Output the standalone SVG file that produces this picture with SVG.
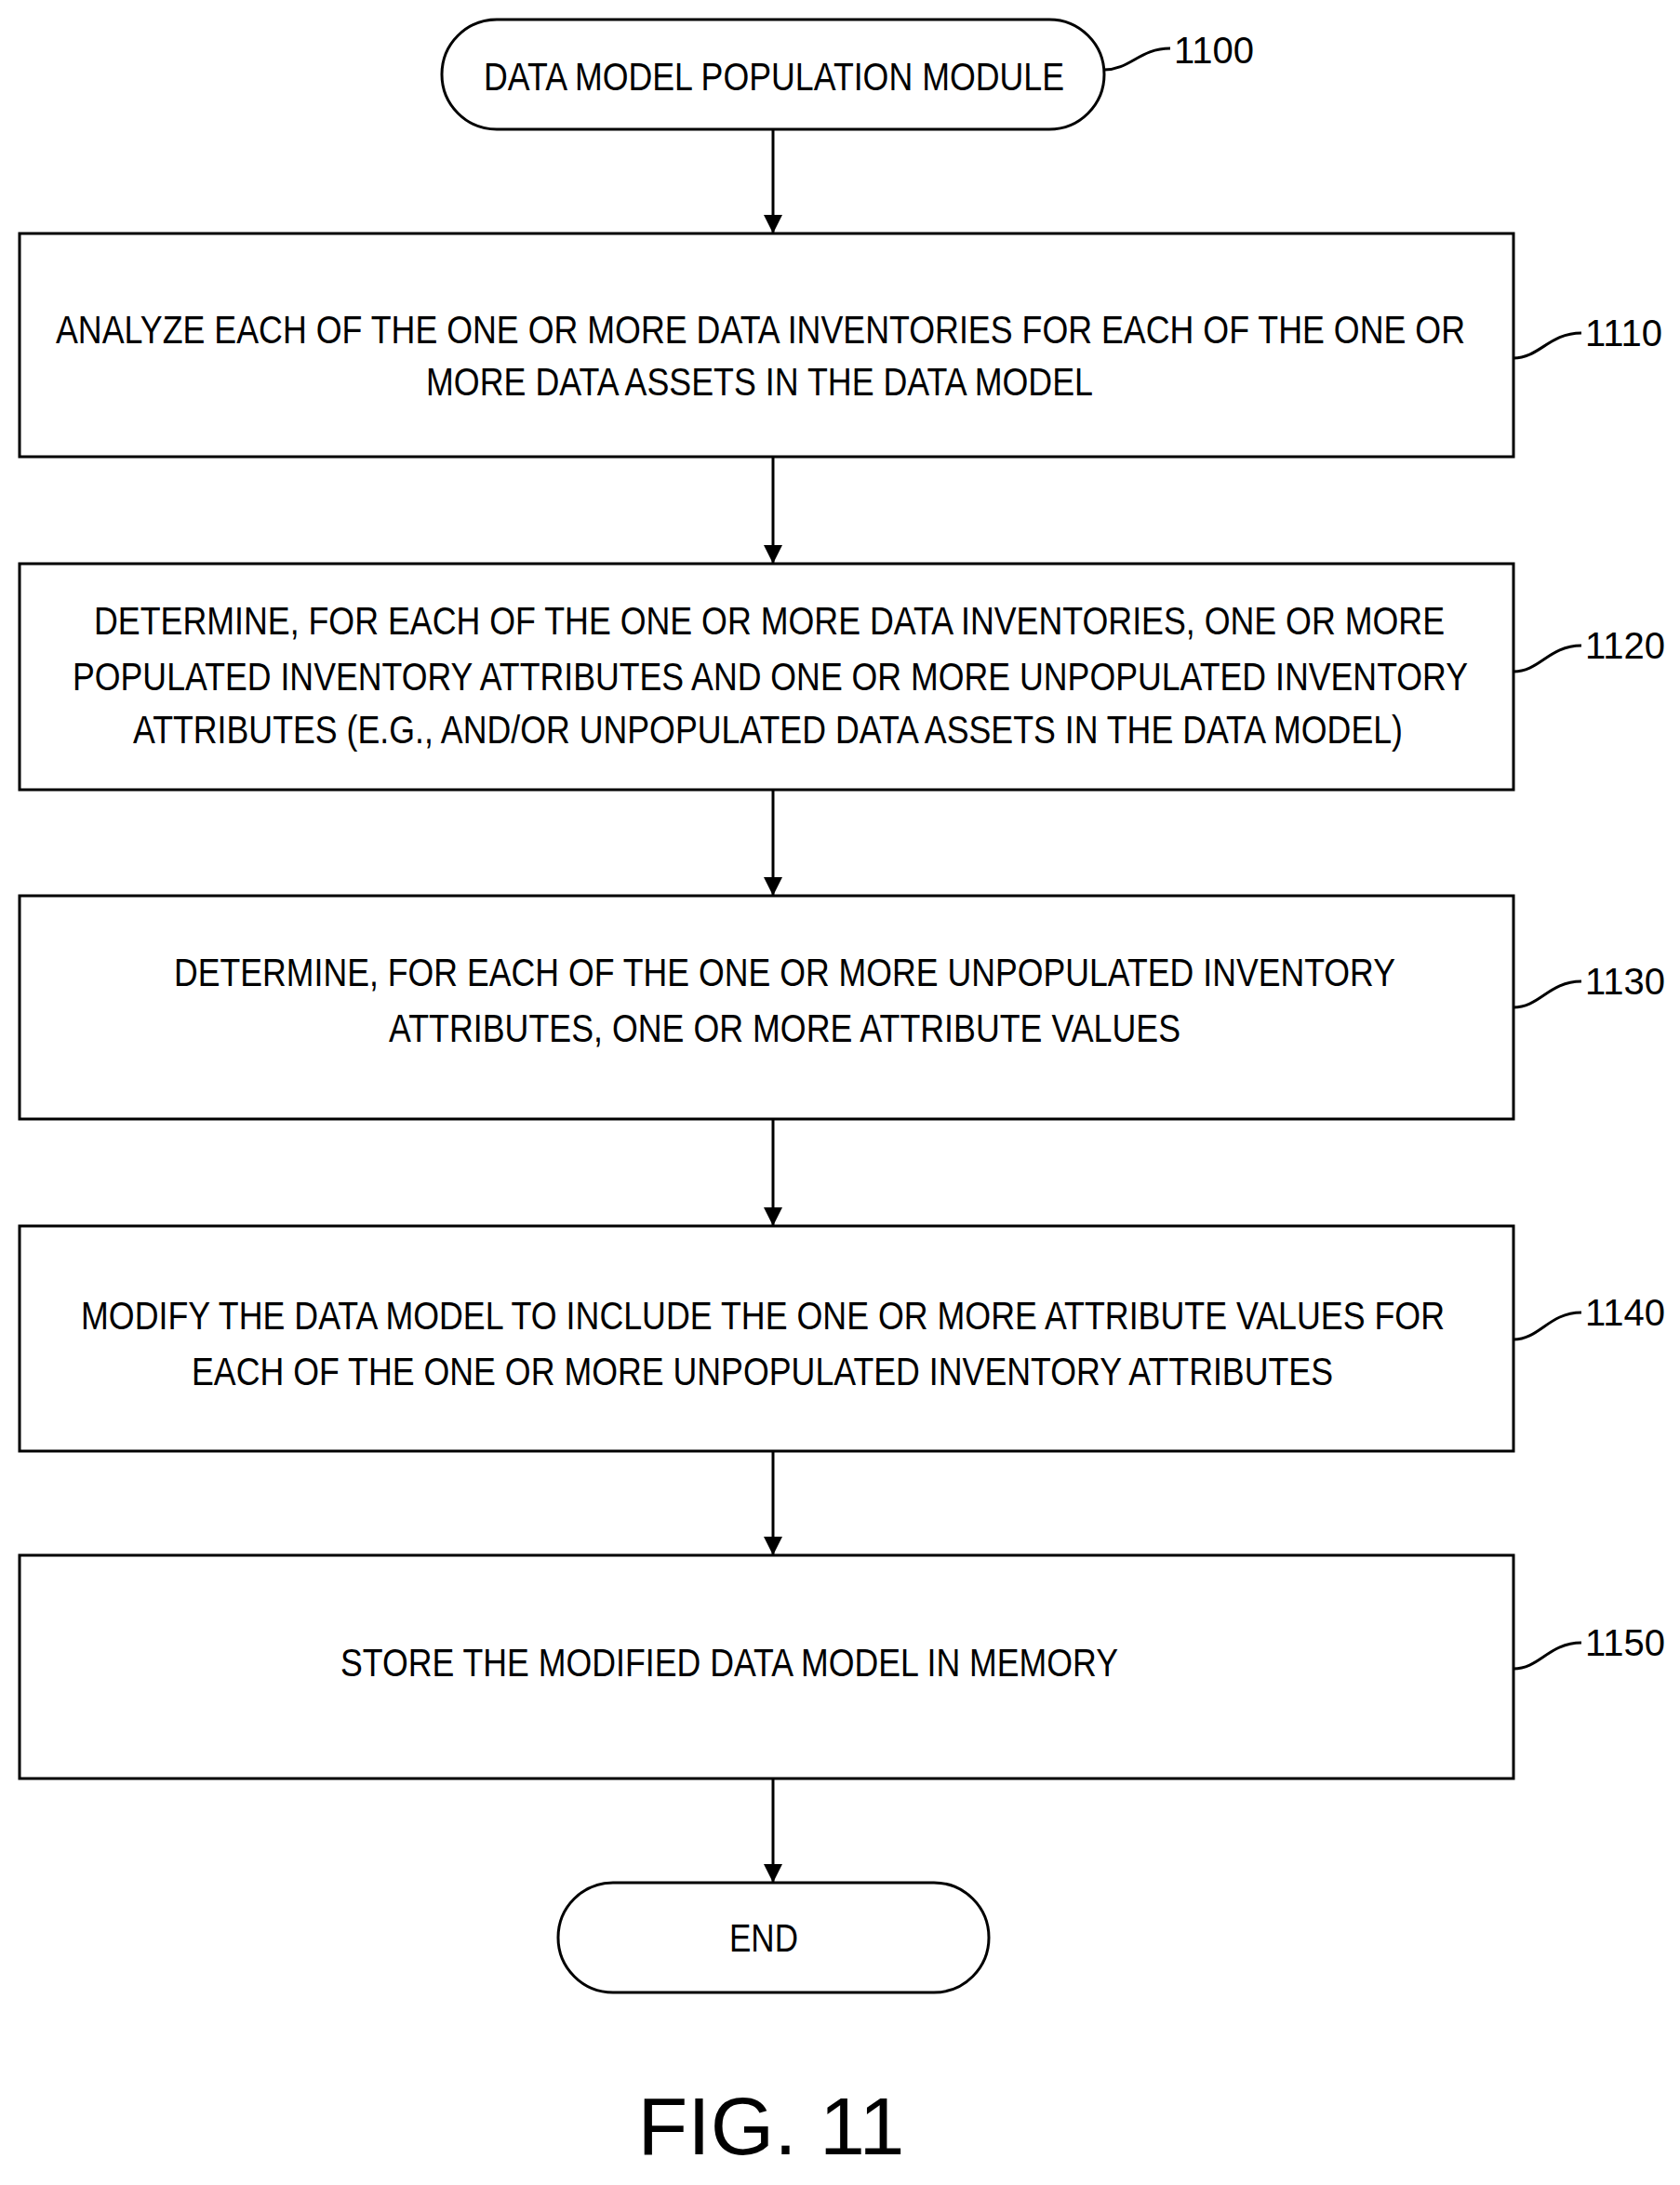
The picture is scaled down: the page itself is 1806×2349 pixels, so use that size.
<svg xmlns="http://www.w3.org/2000/svg" width="1806" height="2349" viewBox="0 0 1806 2349">
<style>
.b{fill:#fff;stroke:#000;stroke-width:3}
.t{font-family:"Liberation Sans",Arial,sans-serif;font-size:42px;fill:#000}
.l{font-family:"Liberation Sans",Arial,sans-serif;font-size:40px;fill:#000}
.c{fill:none;stroke:#000;stroke-width:3}
</style>
<defs><marker id="a" markerWidth="10" markerHeight="10" refX="9" refY="5" orient="auto" markerUnits="userSpaceOnUse" viewBox="0 0 10 10"><path d="M0 0L10 5L0 10z" fill="#000"/></marker>
<marker id="ah" viewBox="0 0 20 20" refX="20" refY="10" markerWidth="20" markerHeight="20" orient="auto" markerUnits="userSpaceOnUse"><path d="M0 0L20 10L0 20z" fill="#000"/></marker></defs>
<rect width="1806" height="2349" fill="#fff"/>
<g id="n1100"><rect class="b" x="475" y="21" width="712" height="118" rx="59"/><text class="t" x="520" y="97" textLength="624" lengthAdjust="spacingAndGlyphs">DATA MODEL POPULATION MODULE</text></g>
<g id="n1110"><rect class="b" x="21" y="251" width="1606" height="240"/>
<text class="t" x="60" y="369" textLength="1515" lengthAdjust="spacingAndGlyphs">ANALYZE EACH OF THE ONE OR MORE DATA INVENTORIES FOR EACH OF THE ONE OR</text>
<text class="t" x="458" y="425" textLength="717" lengthAdjust="spacingAndGlyphs">MORE DATA ASSETS IN THE DATA MODEL</text></g>
<g id="n1120"><rect class="b" x="21" y="606" width="1606" height="243"/>
<text class="t" x="101" y="682" textLength="1452" lengthAdjust="spacingAndGlyphs">DETERMINE, FOR EACH OF THE ONE OR MORE DATA INVENTORIES, ONE OR MORE</text>
<text class="t" x="78" y="742" textLength="1500" lengthAdjust="spacingAndGlyphs">POPULATED INVENTORY ATTRIBUTES AND ONE OR MORE UNPOPULATED INVENTORY</text>
<text class="t" x="143" y="799" textLength="1365" lengthAdjust="spacingAndGlyphs">ATTRIBUTES (E.G., AND/OR UNPOPULATED DATA ASSETS IN THE DATA MODEL)</text></g>
<g id="n1130"><rect class="b" x="21" y="963" width="1606" height="240"/>
<text class="t" x="187" y="1060" textLength="1313" lengthAdjust="spacingAndGlyphs">DETERMINE, FOR EACH OF THE ONE OR MORE UNPOPULATED INVENTORY</text>
<text class="t" x="418" y="1120" textLength="851" lengthAdjust="spacingAndGlyphs">ATTRIBUTES, ONE OR MORE ATTRIBUTE VALUES</text></g>
<g id="n1140"><rect class="b" x="21" y="1318" width="1606" height="242"/>
<text class="t" x="87" y="1429" textLength="1466" lengthAdjust="spacingAndGlyphs">MODIFY THE DATA MODEL TO INCLUDE THE ONE OR MORE ATTRIBUTE VALUES FOR</text>
<text class="t" x="206" y="1489" textLength="1227" lengthAdjust="spacingAndGlyphs">EACH OF THE ONE OR MORE UNPOPULATED INVENTORY ATTRIBUTES</text></g>
<g id="n1150"><rect class="b" x="21" y="1672" width="1606" height="240"/>
<text class="t" x="366" y="1802" textLength="836" lengthAdjust="spacingAndGlyphs">STORE THE MODIFIED DATA MODEL IN MEMORY</text></g>
<g id="end"><rect class="b" x="600" y="2024" width="463" height="118" rx="59"/><text class="t" x="784" y="2098" textLength="74" lengthAdjust="spacingAndGlyphs">END</text></g>
<g id="connectors">
<line class="c" x1="831" y1="139" x2="831" y2="251" marker-end="url(#ah)"/>
<line class="c" x1="831" y1="491" x2="831" y2="606" marker-end="url(#ah)"/>
<line class="c" x1="831" y1="849" x2="831" y2="963" marker-end="url(#ah)"/>
<line class="c" x1="831" y1="1203" x2="831" y2="1318" marker-end="url(#ah)"/>
<line class="c" x1="831" y1="1560" x2="831" y2="1672" marker-end="url(#ah)"/>
<line class="c" x1="831" y1="1912" x2="831" y2="2024" marker-end="url(#ah)"/>
<path class="c" d="M1187 75C1215 75,1225 52,1258 52"/>
<path class="c" d="M1627 385C1655 385,1665 358,1700 358"/>
<path class="c" d="M1627 722C1655 722,1665 694,1700 694"/>
<path class="c" d="M1627 1083C1655 1083,1665 1055,1700 1055"/>
<path class="c" d="M1627 1440C1655 1440,1665 1411,1700 1411"/>
<path class="c" d="M1627 1794C1655 1794,1665 1766,1700 1766"/>
</g>
<text class="l" x="1262" y="68">1100</text>
<text class="l" x="1704" y="372">1110</text>
<text class="l" x="1704" y="708">1120</text>
<text class="l" x="1704" y="1069">1130</text>
<text class="l" x="1704" y="1425">1140</text>
<text class="l" x="1704" y="1780">1150</text>
<text x="829" y="2316" text-anchor="middle" font-family="Liberation Sans,Arial,sans-serif" font-size="88">FIG. 11</text>
</svg>
